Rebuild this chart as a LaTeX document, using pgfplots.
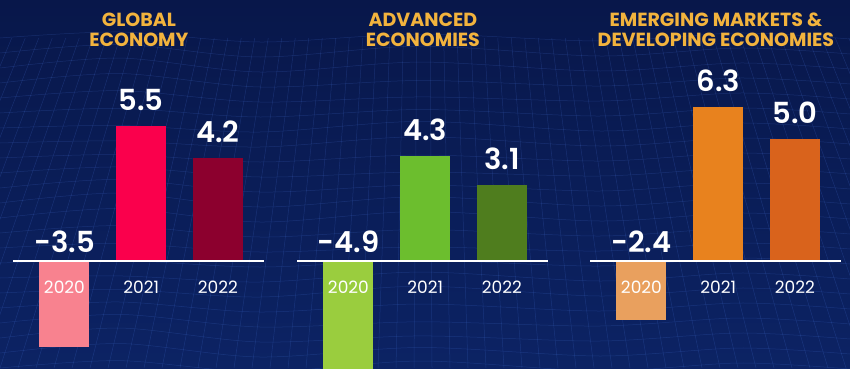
\documentclass[border=0pt]{standalone}
\usepackage{pgfplots}
\pgfplotsset{compat=1.18}
\usepackage{fontspec}
\newfontfamily\pop{Poppins}
\newfontfamily\popsb{Poppins SemiBold}
\definecolor{bgtop}{HTML}{08174A}
\definecolor{bgbot}{HTML}{0C2364}
\definecolor{mesh}{HTML}{4A78E0}
\definecolor{gold}{HTML}{F2B33D}
\definecolor{gA}{HTML}{F8828F}
\definecolor{gB}{HTML}{FA004C}
\definecolor{gC}{HTML}{8C002E}
\definecolor{aA}{HTML}{9ACD3E}
\definecolor{aB}{HTML}{6CBE2E}
\definecolor{aC}{HTML}{4F7D1E}
\definecolor{eA}{HTML}{E9A05E}
\definecolor{eB}{HTML}{E8821E}
\definecolor{eC}{HTML}{D9631C}
\tikzset{ttl/.style={align=center, text=gold, font=\pop\bfseries\fontsize{19}{19.5}\selectfont}}
\pgfplotsset{
  grp/.style={
    anchor=south west, scale only axis, width=251pt, height=368pt,
    xmin=-0.67, xmax=2.6, ymin=-4.367, ymax=10.653,
    axis x line=middle, axis y line=none,
    x axis line style={white, line width=1.3pt, -},
    xtick={0,1,2}, xticklabels={2020,2021,2022},
    major tick length=0pt, ytick=\empty,
    xticklabel style={font=\pop\fontsize{17}{18}\selectfont, text=white, anchor=north, inner sep=0pt, yshift=-20pt},
    axis on top, clip=true,
    every axis plot/.append style={ybar, bar width=50pt, bar shift=0pt, draw=none},
    nodes near coords style={font=\popsb\fontsize{29}{32}\selectfont, text=white, anchor=south, inner sep=0pt},
  },
  val/.style={nodes near coords, point meta=explicit symbolic, nodes near coords style={yshift=15pt}},
  neg/.style={fill=none, draw=none, nodes near coords, point meta=explicit symbolic, nodes near coords style={yshift=8pt}},
}
\begin{document}
\begin{tikzpicture}[x=1pt,y=1pt]
\shade[top color=bgtop, bottom color=bgbot] (0,0) rectangle (850,368);
% faint wireframe texture
\begin{scope}[draw=mesh, opacity=0.22, line width=0.5pt]
\foreach \k in {0,...,22} {
  \draw[smooth] plot coordinates {(0,{330-\k*15}) (120,{336-\k*15+4*sin(\k*40)}) (260,{326-\k*15}) (420,{334-\k*15+3*sin(\k*70)}) (600,{327-\k*15}) (740,{335-\k*15}) (850,{329-\k*15})};
}
\foreach \k in {-20,...,60} {
  \draw ({\k*18},0) -- ({425+(\k*18-425)*0.75},330);
}
\end{scope}
% Global economy
\begin{axis}[grp, at={(13pt,0pt)}]
\addplot[fill=gA] coordinates {(0,-3.5)};
\addplot[fill=gB, val] coordinates {(1,5.5) [5.5]};
\addplot[fill=gC, val] coordinates {(2,4.2) [4.2]};
\addplot[neg] coordinates {(0,0) [-3.5]};
\node[ttl] at (axis cs:0.97,9.43) {GLOBAL\\ECONOMY};
\end{axis}
% Advanced economies
\begin{axis}[grp, at={(297pt,0pt)}]
\addplot[fill=aA] coordinates {(0,-4.9)};
\addplot[fill=aB, val] coordinates {(1,4.3) [4.3]};
\addplot[fill=aC, val] coordinates {(2,3.1) [3.1]};
\addplot[neg] coordinates {(0,0) [-4.9]};
\node[ttl] at (axis cs:0.97,9.43) {ADVANCED\\ECONOMIES};
\end{axis}
% Emerging markets
\begin{axis}[grp, at={(590pt,0pt)}]
\addplot[fill=eA] coordinates {(0,-2.4)};
\addplot[fill=eB, val] coordinates {(1,6.3) [6.3]};
\addplot[fill=eC, val] coordinates {(2,5.0) [5.0]};
\addplot[neg] coordinates {(0,0) [-2.4]};
\node[ttl] at (axis cs:0.97,9.43) {EMERGING MARKETS \&\\DEVELOPING ECONOMIES};
\end{axis}
\pgfresetboundingbox
\path[use as bounding box] (0,0) rectangle (850,368);
\end{tikzpicture}
\end{document}
